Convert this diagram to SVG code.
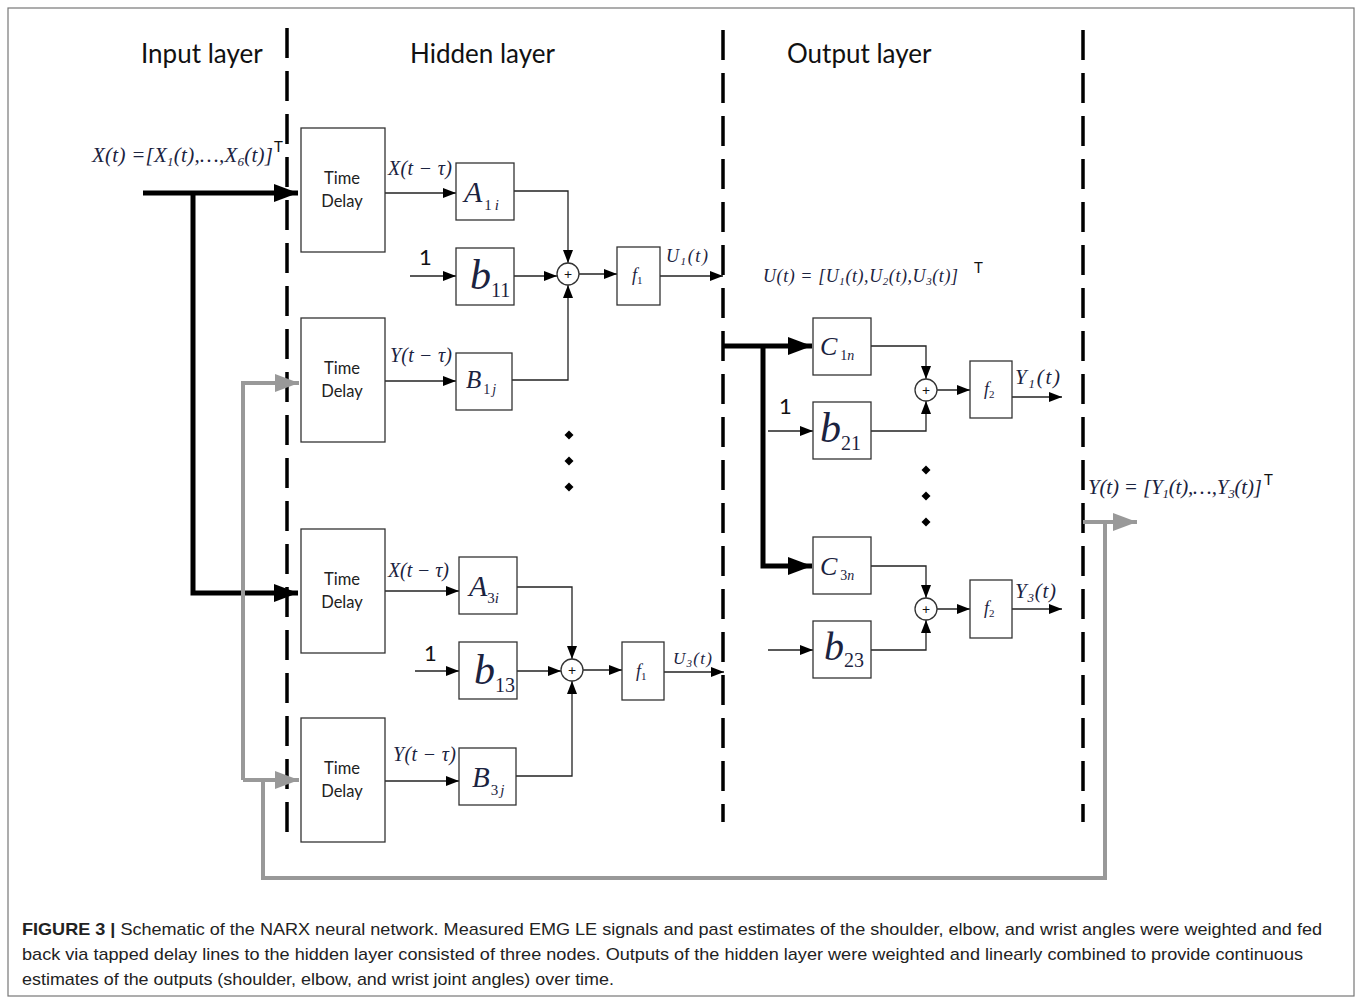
<svg xmlns="http://www.w3.org/2000/svg" width="1358" height="999" viewBox="0 0 1358 999">
<defs>
<style>
.frame{fill:#fff;stroke:#777;stroke-width:1.2}
.dash{stroke:#000;stroke-width:3.5;stroke-dasharray:30 13;fill:none}
.box{fill:#fff;stroke:#333;stroke-width:1.3}
.ln{stroke:#222;stroke-width:1.3;fill:none}
.thick{stroke:#000;stroke-width:5;fill:none}
.gray{stroke:#999;stroke-width:4;fill:none}
.title{font-family:Lato,"Open Sans",sans-serif;font-size:26px;fill:#111}
.td{font-family:Lato,"Open Sans",sans-serif;font-size:16.5px;fill:#222;text-anchor:middle}
.m{font-family:"Liberation Serif",serif;font-style:italic;fill:#1b2340}
.n{font-family:Lato,"Open Sans",sans-serif;fill:#111}
.cap{font-family:"Liberation Sans",Arial,sans-serif;font-size:17px;fill:#222}
.dot{fill:#000}
</style>
<marker id="a" markerUnits="userSpaceOnUse" markerWidth="13" markerHeight="10" refX="13" refY="5" orient="auto"><path d="M0,0 L13,5 L0,10 z" fill="#000"/></marker>
<marker id="ta" markerUnits="userSpaceOnUse" markerWidth="24" markerHeight="18" refX="24" refY="9" orient="auto"><path d="M0,0 L24,9 L0,18 z" fill="#000"/></marker>
<marker id="ga" markerUnits="userSpaceOnUse" markerWidth="24" markerHeight="18" refX="24" refY="9" orient="auto"><path d="M0,0 L24,9 L0,18 z" fill="#999"/></marker>
<path id="dm" d="M0,-4.5 L4.5,0 L0,4.5 L-4.5,0 z"/>
</defs>
<rect class="frame" x="8" y="8" width="1346" height="988"/>

<g id="layers">
<line class="dash" x1="287" y1="28" x2="287" y2="838"/>
<line class="dash" x1="723" y1="30" x2="723" y2="822"/>
<line class="dash" x1="1083" y1="30" x2="1083" y2="822"/>
<text class="title" x="141" y="63">Input layer</text>
<text class="title" x="410" y="63">Hidden layer</text>
<text class="title" x="787" y="63">Output layer</text>
</g>

<g id="connectors">
<path class="thick" d="M143,193 H298" marker-end="url(#ta)"/>
<path class="thick" d="M193,193 V593 H298" marker-end="url(#ta)"/>
<path class="gray" d="M1083,522 H1137" marker-end="url(#ga)"/>
<path class="gray" d="M1105,522 V878 H263 V780"/>
<path class="gray" d="M243,780 V383 H299" marker-end="url(#ga)"/>
<path class="gray" d="M243,780 H299" marker-end="url(#ga)"/>
<path class="ln" d="M385,193 H456" marker-end="url(#a)"/>
<path class="ln" d="M410,276 H456" marker-end="url(#a)"/>
<path class="ln" d="M514,191 H568 V263" marker-end="url(#a)"/>
<path class="ln" d="M514,276 H557" marker-end="url(#a)"/>
<path class="ln" d="M385,381 H456" marker-end="url(#a)"/>
<path class="ln" d="M512,380 H568 V285" marker-end="url(#a)"/>
<path class="ln" d="M579,274 H617" marker-end="url(#a)"/>
<path class="ln" d="M660,276 H723" marker-end="url(#a)"/>
<path class="ln" d="M385,591 H459" marker-end="url(#a)"/>
<path class="ln" d="M415,671 H459" marker-end="url(#a)"/>
<path class="ln" d="M517,587 H572 V659" marker-end="url(#a)"/>
<path class="ln" d="M517,671 H561" marker-end="url(#a)"/>
<path class="ln" d="M385,781 H459" marker-end="url(#a)"/>
<path class="ln" d="M516,776 H572 V681" marker-end="url(#a)"/>
<path class="ln" d="M583,670 H622" marker-end="url(#a)"/>
<path class="ln" d="M664,672 H724" marker-end="url(#a)"/>
<path class="thick" d="M723,346 H812" marker-end="url(#ta)"/>
<path class="thick" d="M763,346 V566 H812" marker-end="url(#ta)"/>
<path class="ln" d="M768,431 H813" marker-end="url(#a)"/>
<path class="ln" d="M768,650 H813" marker-end="url(#a)"/>
<path class="ln" d="M871,346 H926 V379" marker-end="url(#a)"/>
<path class="ln" d="M871,431 H926 V401" marker-end="url(#a)"/>
<path class="ln" d="M937,390 H970" marker-end="url(#a)"/>
<path class="ln" d="M1012,397 H1062" marker-end="url(#a)"/>
<path class="ln" d="M871,566 H926 V598" marker-end="url(#a)"/>
<path class="ln" d="M871,650 H926 V620" marker-end="url(#a)"/>
<path class="ln" d="M937,609 H970" marker-end="url(#a)"/>
<path class="ln" d="M1012,609 H1062" marker-end="url(#a)"/>
</g>

<g id="labels">
<text class="m" x="92" y="162" font-size="21" textLength="181">X(t) =[X<tspan font-size="13" dy="4">1</tspan><tspan dy="-4">(t),…,X</tspan><tspan font-size="13" dy="4">6</tspan><tspan dy="-4">(t)]</tspan></text>
<text class="n" x="274" y="152" font-size="15">T</text>
<text class="m" x="388" y="175" font-size="20" textLength="64">X(t − τ)</text>
<text class="n" x="419" y="265" font-size="22">1</text>
<text class="m" x="666" y="262" font-size="18" textLength="42">U<tspan font-size="11" dy="3">1</tspan><tspan dy="-3">(t)</tspan></text>
<text class="m" x="390" y="362" font-size="20" textLength="62">Y(t − τ)</text>
<text class="m" x="388" y="577" font-size="20" textLength="61">X(t − τ)</text>
<text class="n" x="424" y="661" font-size="22">1</text>
<text class="m" x="673" y="664" font-size="17" textLength="39">U<tspan font-size="11" dy="3">3</tspan><tspan dy="-3">(t)</tspan></text>
<text class="m" x="393" y="761" font-size="20" textLength="63">Y(t − τ)</text>
<text class="m" x="763" y="282" font-size="18" textLength="195">U(t) = [U<tspan font-size="11" dy="3">1</tspan><tspan dy="-3">(t),U</tspan><tspan font-size="11" dy="3">2</tspan><tspan dy="-3">(t),U</tspan><tspan font-size="11" dy="3">3</tspan><tspan dy="-3">(t)]</tspan></text>
<text class="n" x="974" y="273" font-size="15">T</text>
<text class="n" x="779" y="414" font-size="22">1</text>
<text class="m" x="1015" y="384" font-size="21" textLength="45">Y<tspan font-size="13" dy="4">1</tspan><tspan dy="-4">(t)</tspan></text>
<text class="m" x="1015" y="598" font-size="21" textLength="41">Y<tspan font-size="13" dy="4">3</tspan><tspan dy="-4">(t)</tspan></text>
<text class="m" x="1088" y="494" font-size="21" textLength="174">Y(t) = [Y<tspan font-size="13" dy="4">1</tspan><tspan dy="-4">(t),…,Y</tspan><tspan font-size="13" dy="4">3</tspan><tspan dy="-4">(t)]</tspan></text>
<text class="n" x="1264" y="485" font-size="15">T</text>
</g>

<g id="td1"><rect class="box" x="301" y="128" width="84" height="124"/><text class="td" x="342" y="184">Time</text><text class="td" x="342" y="207">Delay</text></g>
<g id="td2"><rect class="box" x="301" y="318" width="84" height="124"/><text class="td" x="342" y="374">Time</text><text class="td" x="342" y="397">Delay</text></g>
<g id="td3"><rect class="box" x="301" y="529" width="84" height="124"/><text class="td" x="342" y="585">Time</text><text class="td" x="342" y="608">Delay</text></g>
<g id="td4"><rect class="box" x="301" y="718" width="84" height="124"/><text class="td" x="342" y="774">Time</text><text class="td" x="342" y="797">Delay</text></g>

<g id="A1i"><rect class="box" x="456" y="163" width="58" height="57"/><text class="m" x="464" y="202" font-size="30">A<tspan font-size="15" dx="2" dy="8" font-style="normal">1</tspan><tspan font-size="15" dx="3">i</tspan></text></g>
<g id="b11"><rect class="box" x="456" y="248" width="58" height="57"/><text class="m" x="470" y="289" font-size="42">b<tspan font-size="20" dy="8" font-style="normal">11</tspan></text></g>
<g id="B1j"><rect class="box" x="456" y="353" width="56" height="57"/><text class="m" x="466" y="388" font-size="25">B<tspan font-size="14" dx="2" dy="6" font-style="normal">1</tspan><tspan font-size="14" dx="2">j</tspan></text></g>
<g id="sum1"><circle class="box" cx="568" cy="274" r="11"/><text class="n" x="568" y="279" font-size="14" text-anchor="middle">+</text></g>
<g id="f1a"><rect class="box" x="617" y="247" width="43" height="58"/><text class="m" x="632" y="281" font-size="18">f<tspan font-size="11" dy="3" font-style="normal">1</tspan></text></g>

<g id="A3i"><rect class="box" x="459" y="557" width="58" height="57"/><text class="m" x="469" y="596" font-size="30">A<tspan font-size="15" dy="7" font-style="normal">3</tspan><tspan font-size="15">i</tspan></text></g>
<g id="b13"><rect class="box" x="459" y="642" width="58" height="57"/><text class="m" x="474" y="684" font-size="42">b<tspan font-size="20" dy="8" font-style="normal">13</tspan></text></g>
<g id="B3j"><rect class="box" x="459" y="748" width="57" height="57"/><text class="m" x="472" y="787" font-size="29">B<tspan font-size="15" dx="1" dy="8" font-style="normal">3</tspan><tspan font-size="15" dx="2">j</tspan></text></g>
<g id="sum3"><circle class="box" cx="572" cy="670" r="11"/><text class="n" x="572" y="675" font-size="14" text-anchor="middle">+</text></g>
<g id="f1b"><rect class="box" x="622" y="642" width="42" height="58"/><text class="m" x="636" y="677" font-size="18">f<tspan font-size="11" dy="3" font-style="normal">1</tspan></text></g>

<g id="C1n"><rect class="box" x="813" y="318" width="58" height="57"/><text class="m" x="820" y="355" font-size="26">C<tspan font-size="14" dx="3" dy="5" font-style="normal">1</tspan><tspan font-size="14">n</tspan></text></g>
<g id="b21"><rect class="box" x="813" y="402" width="58" height="57"/><text class="m" x="820" y="442" font-size="42">b<tspan font-size="20" dy="8" font-style="normal">21</tspan></text></g>
<g id="sum21"><circle class="box" cx="926" cy="390" r="11"/><text class="n" x="926" y="395" font-size="14" text-anchor="middle">+</text></g>
<g id="f2a"><rect class="box" x="970" y="361" width="42" height="57"/><text class="m" x="984" y="395" font-size="18">f<tspan font-size="11" dy="3" font-style="normal">2</tspan></text></g>

<g id="C3n"><rect class="box" x="813" y="537" width="58" height="57"/><text class="m" x="820" y="575" font-size="26">C<tspan font-size="14" dx="3" dy="5" font-style="normal">3</tspan><tspan font-size="14">n</tspan></text></g>
<g id="b23"><rect class="box" x="813" y="621" width="58" height="57"/><text class="m" x="824" y="660" font-size="40">b<tspan font-size="20" dy="7" font-style="normal">23</tspan></text></g>
<g id="sum23"><circle class="box" cx="926" cy="609" r="11"/><text class="n" x="926" y="614" font-size="14" text-anchor="middle">+</text></g>
<g id="f2b"><rect class="box" x="970" y="580" width="42" height="58"/><text class="m" x="984" y="614" font-size="18">f<tspan font-size="11" dy="3" font-style="normal">2</tspan></text></g>

<g id="dots">
<use href="#dm" class="dot" x="569" y="435"/><use href="#dm" class="dot" x="569" y="461"/><use href="#dm" class="dot" x="569" y="487"/>
<use href="#dm" class="dot" x="926" y="470"/><use href="#dm" class="dot" x="926" y="496"/><use href="#dm" class="dot" x="926" y="522"/>
</g>

<g id="caption">
<text class="cap" x="22" y="935" textLength="1300" lengthAdjust="spacingAndGlyphs"><tspan font-weight="bold">FIGURE 3 |</tspan> Schematic of the NARX neural network. Measured EMG LE signals and past estimates of the shoulder, elbow, and wrist angles were weighted and fed</text>
<text class="cap" x="22" y="960" textLength="1281" lengthAdjust="spacingAndGlyphs">back via tapped delay lines to the hidden layer consisted of three nodes. Outputs of the hidden layer were weighted and linearly combined to provide continuous</text>
<text class="cap" x="22" y="985" textLength="592" lengthAdjust="spacingAndGlyphs">estimates of the outputs (shoulder, elbow, and wrist joint angles) over time.</text>
</g>
</svg>
